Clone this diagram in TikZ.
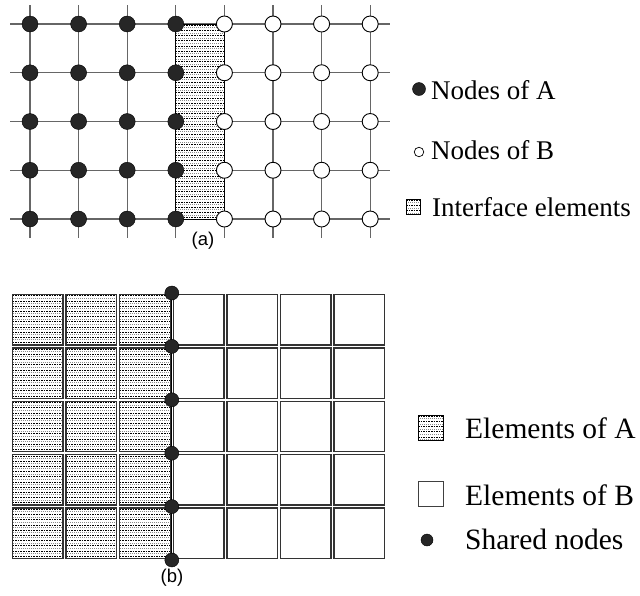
\documentclass[tikz,border=0pt]{standalone}
\usepackage{fontspec}
\setmainfont{Liberation Serif}
\newfontfamily\capfont{Liberation Sans}

% stippled fill used for interface elements and elements of A
\newcommand\stipple[4]{%
  \begin{scope}
    \pgfmathsetmacro\stXa{#1}
    \pgfmathsetmacro\stYa{#2}
    \pgfmathsetmacro\stXb{#3}
    \pgfmathsetmacro\stYb{#4}
    \clip (\stXa,\stYa) rectangle (\stXb,\stYb);
    \fill[white] (\stXa,\stYa) rectangle (\stXb,\stYb);
    \pgfmathsetmacro\stA{\stYa+1.2}
    \pgfmathsetmacro\stB{\stYa+6.4}
    \foreach \yy in {\stA,\stB,...,\stYb} {
      \draw[black, line width=0.7pt, dash pattern=on 1.6pt off 1pt] (\stXa,\yy) -- (\stXb,\yy);
      \draw[black!45, line width=1pt, dash pattern=on 1.2pt off 0.8pt] (\stXa,\yy+2.6) -- (\stXb,\yy+2.6);
    }
  \end{scope}}

\tikzset{
  meshline/.style={black!60, line width=1.1pt},
  anode/.style={circle, fill=black!85, draw=black, inner sep=0pt, minimum size=16pt},
  bnode/.style={circle, fill=white, draw=black, line width=0.9pt, inner sep=0pt, minimum size=16pt},
  snode/.style={circle, fill=black!85, draw=black, inner sep=0pt, minimum size=14pt},
  elem/.style={draw=black!80, line width=1.3pt},
  leg/.style={anchor=base west, inner sep=0pt, font=\fontsize{27}{32}\selectfont},
  legb/.style={anchor=base west, inner sep=0pt, font=\fontsize{29.5}{34}\selectfont},
  sublabel/.style={inner sep=0pt, font=\capfont\fontsize{18.5}{20}\selectfont}
}

\begin{document}
\begin{tikzpicture}[x=1pt, y=-1pt]
\useasboundingbox (0,0) rectangle (640,595);

% ---------- (a) mesh with interface elements ----------
\foreach \j in {0,...,4}
  \draw[meshline] (10,{24+48.75*\j}) -- (390,{24+48.75*\j});
\foreach \i in {0,...,7}
  \draw[meshline] ({30+48.6*\i},5) -- ({30+48.6*\i},238);

\stipple{175.8}{24}{224.4}{219}
\draw[black, line width=0.9pt] (175.8,24) rectangle (224.4,219);

\foreach \i in {0,...,3}
  \foreach \j in {0,...,4}
    \node[anode] (a-\i-\j) at ({30+48.6*\i},{24+48.75*\j}) {};
\foreach \i in {4,...,7}
  \foreach \j in {0,...,4}
    \node[bnode] (a-\i-\j) at ({30+48.6*\i},{24+48.75*\j}) {};

% legend (a)
\node[anode, minimum size=13pt] (la) at (419,89) {};
\node[leg] (ta) at (431,99) {Nodes of A};
\node[bnode, minimum size=9.5pt, line width=0.7pt] (lb) at (419,152) {};
\node[leg] (tb) at (431,159) {Nodes of B};
\stipple{406}{199}{420}{214}
\draw[black, line width=0.6pt] (406,199) rectangle (420,214);
\node[leg] (ti) at (432,216) {Interface elements};

\node[sublabel] (capa) at (203,241) {(a)};

% ---------- (b) elements sharing nodes ----------
\foreach \k in {0,...,2}
  \foreach \j in {0,...,4} {
    \stipple{11+53.6*\k+1.5}{293+53.4*\j+1.5}{11+53.6*(\k+1)-1.5}{293+53.4*(\j+1)-1.5}
    \draw[elem] ({11+53.6*\k+1.5},{293+53.4*\j+1.5}) rectangle ({11+53.6*(\k+1)-1.5},{293+53.4*(\j+1)-1.5});
  }
\foreach \k in {3,...,6}
  \foreach \j in {0,...,4}
    \draw[elem] ({11+53.6*\k+1.5},{293+53.4*\j+1.5}) rectangle ({11+53.6*(\k+1)-1.5},{293+53.4*(\j+1)-1.5});

\draw[black, line width=1.1pt] (171.8,293) -- (171.8,560);
\foreach \j in {0,...,5}
  \node[snode] (s-\j) at (171.8,{293+53.4*\j}) {};

% legend (b)
\stipple{418}{415}{443}{440}
\draw[black, line width=0.8pt] (418,415) rectangle (443,440);
\node[legb] (tea) at (465,438) {Elements of A};
\draw[black!75, line width=1pt] (418,481) rectangle (443,506);
\node[legb] (teb) at (465,505) {Elements of B};
\node[snode, minimum size=12pt] (ls) at (427,540) {};
\node[legb] (tsn) at (465,549) {Shared nodes};

\node[sublabel] (capb) at (172,578) {(b)};
\end{tikzpicture}
\end{document}
